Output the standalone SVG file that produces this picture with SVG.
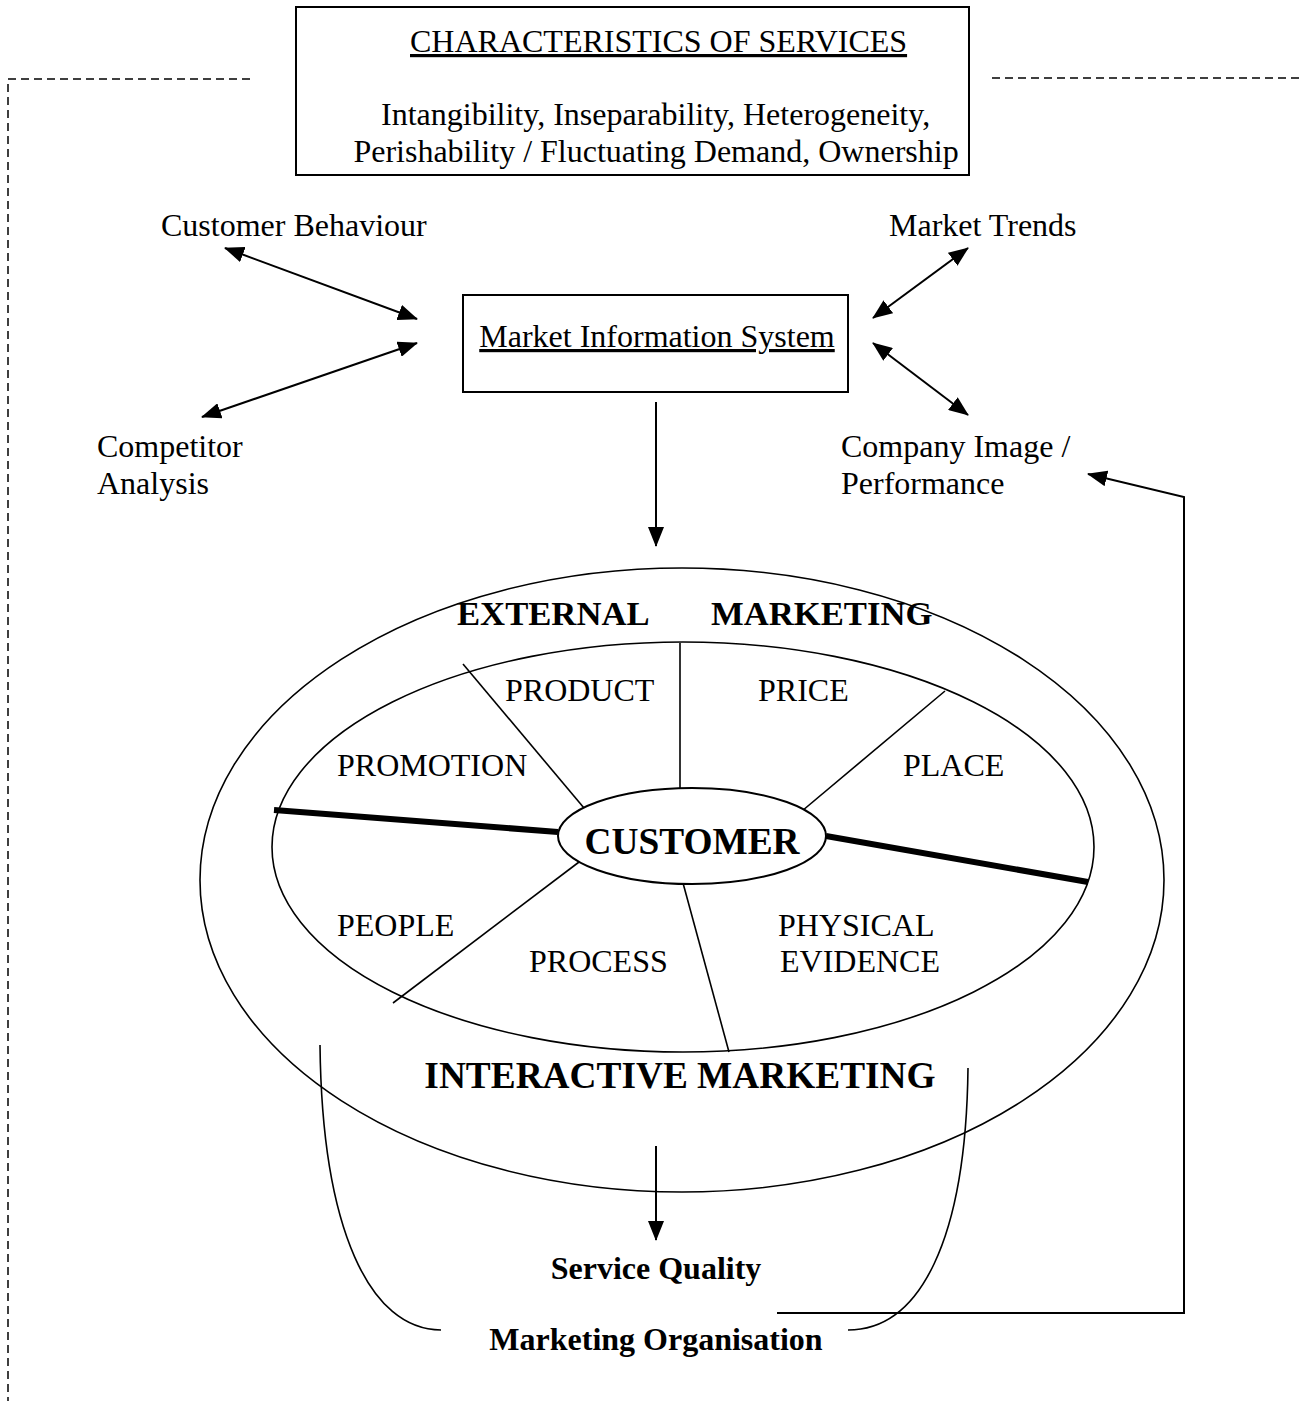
<svg xmlns="http://www.w3.org/2000/svg" width="1302" height="1401" viewBox="0 0 1302 1401">
<style>
text{font-family:"Liberation Serif","Times New Roman",serif;fill:#000}
.n{font-size:32px}
.b{font-weight:bold}
.ln{fill:none;stroke:#000;stroke-width:1.6}
.ar{fill:none;stroke:#000;stroke-width:2}
.dash{fill:none;stroke:#000;stroke-width:1.5;stroke-dasharray:8 5}
</style>
<defs>
<marker id="ah" markerUnits="userSpaceOnUse" markerWidth="20" markerHeight="16" refX="19" refY="8" orient="auto-start-reverse" viewBox="0 0 20 16">
<path d="M0,0 L20,8 L0,16 Z" fill="#000"/>
</marker>
</defs>
<rect width="1302" height="1401" fill="#fff"/>

<g id="frame">
<path class="dash" d="M250,79 H8 V1401"/>
<path class="dash" d="M992,78 H1302"/>
</g>

<g id="characteristics">
<rect x="296" y="7" width="673" height="168" fill="#fff" stroke="#000" stroke-width="2"/>
<text class="n" x="410" y="52" text-decoration="underline">CHARACTERISTICS OF SERVICES</text>
<text class="n" x="381" y="125">Intangibility, Inseparability, Heterogeneity,</text>
<text class="n" x="656" y="162" text-anchor="middle">Perishability / Fluctuating Demand, Ownership</text>
</g>

<g id="customer-behaviour"><text class="n" x="161" y="236">Customer Behaviour</text></g>
<g id="market-trends"><text class="n" x="889" y="236">Market Trends</text></g>
<g id="competitor-analysis"><text class="n" x="97" y="457">Competitor</text><text class="n" x="97" y="494">Analysis</text></g>
<g id="company-image"><text class="n" x="841" y="457">Company Image /</text><text class="n" x="841" y="494">Performance</text></g>

<g id="mis">
<rect x="463" y="295" width="385" height="97" fill="#fff" stroke="#000" stroke-width="2"/>
<text class="n" x="657" y="347" text-anchor="middle" text-decoration="underline">Market Information System</text>
</g>

<g id="marketing-mix">
<ellipse cx="682" cy="880" rx="482" ry="312" class="ln"/>
<ellipse cx="683" cy="847" rx="411" ry="205" class="ln"/>
<line x1="463" y1="664" x2="584" y2="808" class="ln"/>
<line x1="680" y1="643" x2="680" y2="788" class="ln"/>
<line x1="945" y1="691" x2="802" y2="811" class="ln"/>
<line x1="583" y1="859" x2="393" y2="1003" class="ln"/>
<line x1="683" y1="883" x2="729" y2="1052" class="ln"/>
<line x1="274" y1="810" x2="558" y2="832" stroke="#000" stroke-width="6"/>
<line x1="826" y1="836" x2="1088" y2="882" stroke="#000" stroke-width="6"/>
<ellipse cx="692" cy="836" rx="134" ry="48" fill="#fff" stroke="#000" stroke-width="2"/>
<text class="b" font-size="34.67" x="457" y="625">EXTERNAL</text>
<text class="b" font-size="34.67" x="711" y="625">MARKETING</text>
<text class="n" x="505" y="701">PRODUCT</text>
<text class="n" x="758" y="701">PRICE</text>
<text class="n" x="337" y="776">PROMOTION</text>
<text class="n" x="903" y="776">PLACE</text>
<text class="b" font-size="37.33" x="692" y="854" text-anchor="middle">CUSTOMER</text>
<text class="n" x="337" y="936">PEOPLE</text>
<text class="n" x="529" y="972">PROCESS</text>
<text class="n" x="778" y="936">PHYSICAL</text>
<text class="n" x="780" y="972">EVIDENCE</text>
<text class="b" font-size="37.33" x="680" y="1088" text-anchor="middle">INTERACTIVE MARKETING</text>
</g>

<g id="service-quality"><text class="n b" x="656" y="1279" text-anchor="middle">Service Quality</text></g>
<g id="marketing-organisation">
<path class="ln" d="M320,1045 C322,1230 370,1330 441,1330"/>
<path class="ln" d="M968,1068 C966,1240 920,1330 848,1330"/>
<text class="n b" x="656" y="1350" text-anchor="middle">Marketing Organisation</text>
</g>

<g id="connectors">
<line x1="225" y1="248" x2="417" y2="319" class="ar" marker-start="url(#ah)" marker-end="url(#ah)"/>
<line x1="202" y1="417" x2="417" y2="343" class="ar" marker-start="url(#ah)" marker-end="url(#ah)"/>
<line x1="873" y1="318" x2="968" y2="248" class="ar" marker-start="url(#ah)" marker-end="url(#ah)"/>
<line x1="873" y1="343" x2="968" y2="415" class="ar" marker-start="url(#ah)" marker-end="url(#ah)"/>
<line x1="656" y1="402" x2="656" y2="546" class="ar" marker-end="url(#ah)"/>
<line x1="656" y1="1146" x2="656" y2="1240" class="ar" marker-end="url(#ah)"/>
<polyline points="777,1313 1184,1313 1184,497 1088,474" class="ar" marker-end="url(#ah)"/>
</g>
</svg>
